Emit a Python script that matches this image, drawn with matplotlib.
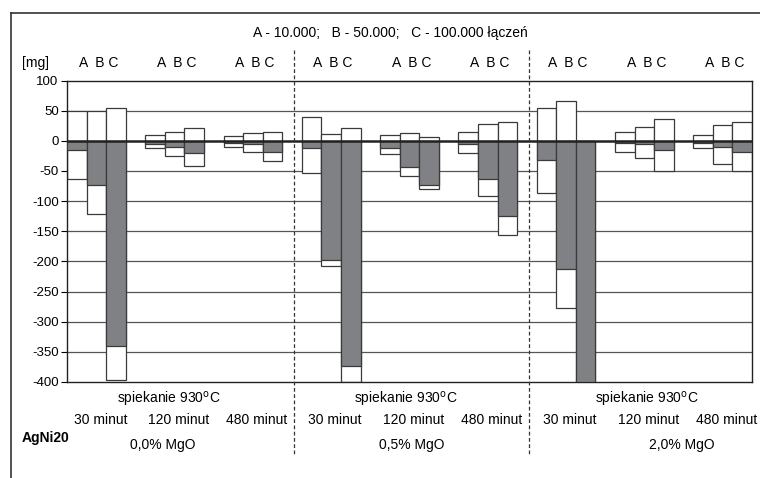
import matplotlib.pyplot as plt
import numpy as np
from matplotlib.lines import Line2D

plt.rcParams['font.family'] = ['Liberation Sans', 'DejaVu Sans']
plt.rcParams['axes.unicode_minus'] = False

# dane
mgo_labels = ['0,0% MgO', '0,5% MgO', '2,0% MgO']
time_labels = ['30 minut', '120 minut', '480 minut']
series = ['A', 'B', 'C']

# górna krawędź białego prostokąta (max)
upper = [50, 50, 55,   9, 15, 22,   8, 13, 15,
         40, 12, 22,   10, 13, 6,   15, 28, 31,
         55, 66, 0,    15, 23, 36,  10, 27, 31]
# dolna krawędź białego prostokąta (min)
lower = [-64, -121, -397,  -12, -25, -41,  -10, -18, -34,
         -53, -207, -400,  -22, -58, -80,  -20, -92, -156,
         -86, -278, -400,  -19, -28, -50,  -12, -38, -50]
# szary słupek (średnia)
mean = [-15, -74, -340,  -5, -10, -20,  -3, -5, -18,
        -12, -197, -374, -12, -44, -74, -5, -64, -125,
        -32, -212, -400, -3, -5, -16,   -4, -10, -19]

upper = np.array(upper)
lower = np.array(lower)
mean = np.array(mean)

gray = '#808184'
edge = '#3a3a3a'

fig = plt.figure(figsize=(7.6, 4.78), dpi=100)
ax = fig.add_axes([67 / 760, 1 - 382 / 478, (752 - 67) / 760, (382 - 80.5) / 478])

# pozycje słupków: 9 grup po 3 słupki + odstęp
n_groups = len(mgo_labels) * len(time_labels)
x = np.array([g * 4 + i + 0.5 for g in range(n_groups) for i in range(3)])

# siatka
for v in range(-350, 100, 50):
    if v != 0:
        ax.axhline(v, color='#555555', lw=0.9, zorder=1)

ax.bar(x, upper - lower, bottom=lower, width=1.0, color='white',
       edgecolor=edge, linewidth=0.9, zorder=2)
ax.bar(x, mean, bottom=0, width=1.0, color=gray,
       edgecolor=edge, linewidth=0.9, zorder=3)
ax.axhline(0, color='#222222', lw=1.8, zorder=4)

ax.set_xlim(0, 35)
ax.set_ylim(-400, 100)
ax.set_yticks(range(-400, 101, 50))
ax.set_xticks([])
ax.tick_params(axis='y', labelsize=9.5, length=4, direction='out', pad=2)
for sp in ax.spines.values():
    sp.set_color('#222222')
    sp.set_linewidth(1.0)

# separatory
for sx in [11.6, 23.6]:
    ax.plot([sx, sx], [150, -522], ls=(0, (3, 2)), color='#333333', lw=0.9,
            clip_on=False, zorder=5)

# etykiety A B C nad grupami
for g in range(n_groups):
    ax.text(g * 4 + 1.6, 129, 'A  B C', ha='center', va='center', fontsize=10,
            clip_on=False)
ax.text(-1.6, 129, '[mg]', ha='center', va='center', fontsize=10)

# etykiety czasu, spiekania i MgO
spiek_x = [5.2, 17.3, 29.6]
mgo_x = [4.9, 17.6, 31.4]
for s in range(len(mgo_labels)):
    ax.text(spiek_x[s], -429, 'spiekanie 930$^{\\rm o}$C', ha='center',
            va='center', fontsize=10)
    ax.text(mgo_x[s], -505, mgo_labels[s], ha='center', va='center', fontsize=10)
    for t in range(len(time_labels)):
        g = s * 3 + t
        ax.text(g * 4 + 1.7, -463, time_labels[t], ha='center', va='center',
                fontsize=10)
ax.text(-1.1, -493, 'AgNi20', ha='center', va='center', fontsize=10,
        fontweight='bold')

fig.text(390 / 760, 1 - 33 / 478, 'A - 10.000;   B - 50.000;   C - 100.000 łączeń',
         ha='center', va='center', fontsize=10)

# ramka wokół wykresu
fig.add_artist(Line2D([11 / 760, 1], [1 - 13 / 478, 1 - 13 / 478],
                      transform=fig.transFigure, color='#333333', lw=1.2))
fig.add_artist(Line2D([11 / 760, 11 / 760], [0, 1 - 13 / 478],
                      transform=fig.transFigure, color='#333333', lw=1.2))

plt.savefig('out.png', dpi=100)
